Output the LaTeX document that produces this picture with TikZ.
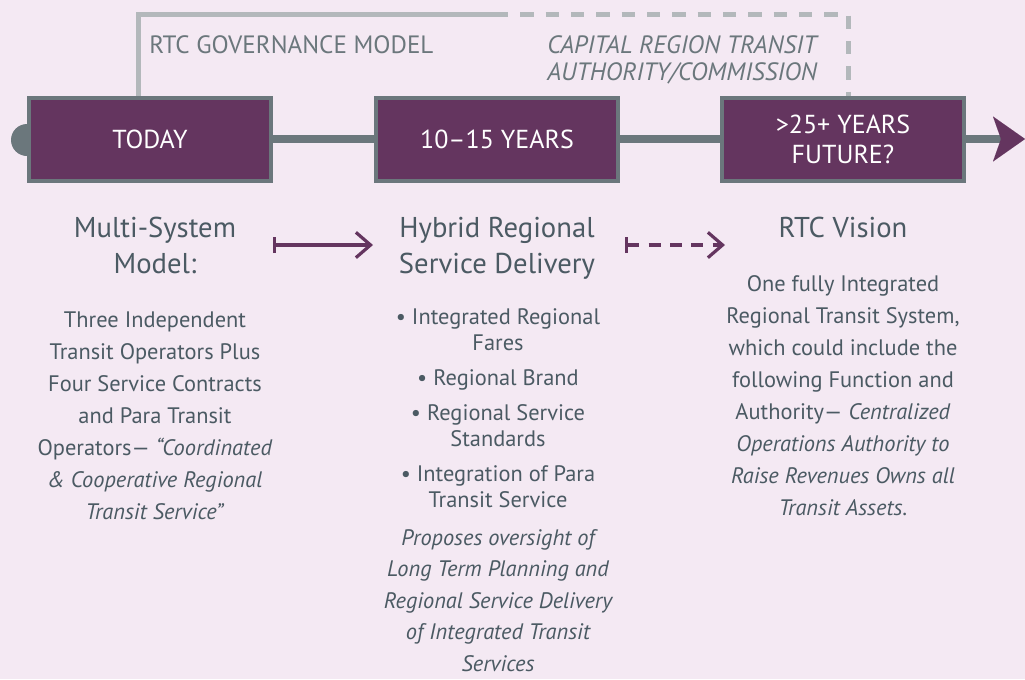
\documentclass[tikz,border=0pt]{standalone}
\usepackage{fontspec}
\setmainfont{PT Sans}
\usetikzlibrary{arrows.meta}
\definecolor{bg}{HTML}{F4E9F3}
\definecolor{plum}{HTML}{64355F}
\definecolor{slate}{HTML}{6B777C}
\definecolor{ink}{HTML}{4B5A63}
\definecolor{govgray}{HTML}{B3B8BB}
\begin{document}
\begin{tikzpicture}[x=0.75pt,y=-0.75pt,
  stagebox/.style={draw=slate, fill=plum, line width=3pt, minimum width=181.5pt,
    minimum height=62.25pt, inner sep=0pt, text=white,
    font=\fontsize{19.5}{22.5}\selectfont, align=center},
  spine/.style={draw=slate, line width=6pt},
  gov/.style={draw=govgray, line width=3.75pt},
  govdash/.style={gov, dash pattern=on 10pt off 9pt},
  govlabel/.style={text=slate, font=\fontsize{18.8}{20.25}\selectfont, inner sep=0pt,
    anchor=base west, align=left},
  heading/.style={text=ink, font=\fontsize{21.5}{27}\selectfont, inner sep=0pt,
    anchor=base, align=center},
  body/.style={text=ink, font=\fontsize{16.8}{24}\selectfont, inner sep=0pt,
    anchor=base, align=center},
  bulletitem/.style={body, font=\fontsize{16.8}{19.5}\selectfont},
  flowarrow/.style={draw=plum, line width=2.4pt,
    {Bar[width=12pt,line width=2.4pt]}-{Straight Barb[length=11pt,width=19pt,line width=2.4pt]}},
]
% page background
\fill[bg] (0,0) rectangle (1025,679);
\useasboundingbox (0,0) rectangle (1025,679);

% corner points of the governance bracket and the end of the timeline
\coordinate (gtl) at (138,14);
\coordinate (gsplit) at (495,14);
\coordinate (gtr) at (848,14);
\coordinate (tipend) at (1025,139);

% round cap at the start of the timeline, then the stage boxes
\node[circle, fill=slate, minimum size=24pt, inner sep=0pt] (cap) at (27,140) {};
\node[stagebox] (today) at (150,139) {TODAY};
\node[stagebox] (mid) at (497,139) {10–15 YEARS};
\node[stagebox] (fut) at (843,139) {>25+ YEARS\\FUTURE?};

% timeline spine
\draw[spine] (today.east) -- (mid.west);
\draw[spine] (mid.east) -- (fut.west);
\draw[spine, -{Stealth[length=24pt, width=33.75pt, inset=6pt, color=plum, line width=0.01pt]}]
  (fut.east) -- (tipend);

% governance bracket
\draw[gov] (today.north -| gtl) -- (gtl) -- (gsplit);
\draw[govdash] (gsplit) -- (gtr) -- (fut.north -| gtr);

% (multi-line nodes are anchored at the baseline of their last line)
\node[govlabel] (govlbl) at (149,53) {RTC GOVERNANCE MODEL};
\node[govlabel, font=\fontsize{18.8}{20.25}\selectfont\itshape] (crta) at (547,80)
  {CAPITAL REGION TRANSIT\\AUTHORITY/COMMISSION};

% column headings
\node[heading] (h1) at (155,273) {Multi-System\\Model:};
\node[heading] (h2) at (497,273) {Hybrid Regional\\Service Delivery};
\node[heading] (h3) at (843,237) {RTC Vision};

% arrows between the headings
\coordinate (a1s) at (273,245);
\coordinate (a1e) at (373,245);
\coordinate (a2s) at (625,245);
\coordinate (a2e) at (725,245);
\draw[flowarrow] (a1s) -- (a1e);
\draw[flowarrow, dash pattern=on 9pt off 7pt] (a2s) -- (a2e);

% column texts
\node[body] (t1) at (155,519) {Three Independent\\Transit Operators Plus\\Four Service Contracts\\and Para Transit\\Operators— \textit{“Coordinated}\\\textit{\& Cooperative Regional}\\\textit{Transit Service”}};

\node[bulletitem] (b1) at (498,350) {• Integrated Regional\\Fares};
\node[bulletitem] (b2) at (498,385) {• Regional Brand};
\node[bulletitem] (b3) at (498,446) {• Regional Service\\Standards};
\node[bulletitem] (b4) at (498,507) {• Integration of Para\\Transit Service};
\node[body, font=\fontsize{16.8}{23.6}\selectfont\itshape] (t2) at (498,671) {Proposes oversight of\\Long Term Planning and\\Regional Service Delivery\\of Integrated Transit\\Services};

\node[body] (t3) at (843,515) {One fully Integrated\\Regional Transit System,\\which could include the\\following Function and\\Authority— \textit{Centralized}\\\textit{Operations Authority to}\\\textit{Raise Revenues Owns all}\\\textit{Transit Assets}.};
\end{tikzpicture}
\end{document}
